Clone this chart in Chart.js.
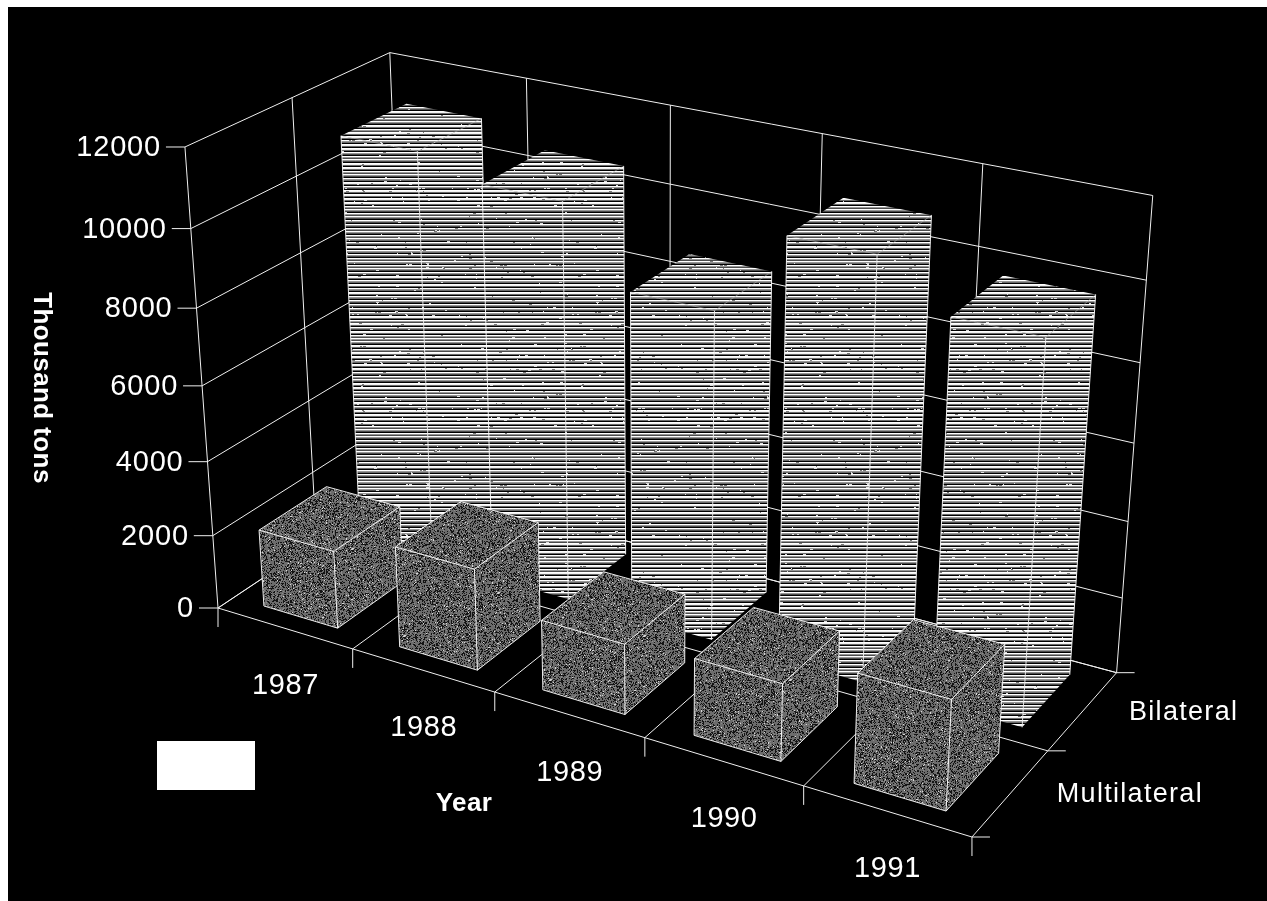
<!DOCTYPE html>
<html>
<head>
<meta charset="utf-8">
<title>Food aid deliveries</title>
<style>
    html, body { margin: 0; padding: 0; background: #fff; }
    canvas { display: block; }
</style>
<script src="https://cdn.jsdelivr.net/npm/chart.js@4"></script>
</head>
<body>
<canvas id="aidChart" width="1267" height="901"></canvas>
<script>
const years = ['1987', '1988', '1989', '1990', '1991'];
const seriesNames = ['Multilateral', 'Bilateral'];
const multilateral = [2100, 2700, 1850, 2000, 2800];
const bilateral = [11000, 10500, 8600, 10800, 9700];
const yTicks = [0, 2000, 4000, 6000, 8000, 10000, 12000];

const SANS = '"Liberation Sans", Arial, sans-serif';
const LINE = '#f0f0f0';

// Box camera: u runs along the years, v runs back through the series, t runs up the value axis
const cam = {
    o: [218, 608], u: [627.6, 120.2], v: [225.2, -83.1], t: [-46, -471.3],
    wu: -0.13, wv: 0.089, wt: -0.07
};

function project(u, v, t) {
    const w = 1 + cam.wu * u + cam.wv * v + cam.wt * t;
    return [
        (cam.o[0] + cam.u[0] * u + cam.v[0] * v + cam.t[0] * t) / w,
        (cam.o[1] + cam.u[1] * u + cam.v[1] * v + cam.t[1] * t) / w
    ];
}

function segment(ctx, a, b) {
    ctx.beginPath();
    ctx.moveTo(a[0], a[1]);
    ctx.lineTo(b[0], b[1]);
    ctx.stroke();
}

function polygon(ctx, pts, fill) {
    ctx.beginPath();
    pts.forEach((p, i) => (i ? ctx.lineTo(p[0], p[1]) : ctx.moveTo(p[0], p[1])));
    ctx.closePath();
    ctx.fillStyle = fill;
    ctx.fill();
}

// Small repeatable generator for the print textures
function lcg(seed) {
    let s = seed;
    return () => {
        s = (s * 1103515245 + 12345) & 0x7fffffff;
        return s / 0x7fffffff;
    };
}

function stripeTexture(ctx) {
    const size = 220;
    const tile = document.createElement('canvas');
    tile.width = tile.height = size;
    const g = tile.getContext('2d');
    const img = g.createImageData(size, size);
    const rnd = lcg(77);
    const rows = [];
    while (rows.length < size) {
        const k = rnd();
        rows.push(255, k < 0.35 ? 240 : 150, k < 0.5 ? 105 : 75, k < 0.75 ? 0 : 35);
        if (k > 0.75) rows.pop();
    }
    for (let y = 0; y < size; y++) {
        // dropouts run along the row in short dashes
        let run = 0;
        let dash = 255;
        for (let x = 0; x < size; x++) {
            let c = rows[y];
            if (run > 0) {
                c = dash;
                run--;
            } else {
                const r = rnd();
                if (c > 200 && r < 0.008) { dash = 120; run = 1 + Math.floor(rnd() * 3); }
                if (c < 150 && r < 0.008) { dash = 220; run = 1 + Math.floor(rnd() * 3); }
            }
            const i = (y * size + x) * 4;
            img.data[i] = img.data[i + 1] = img.data[i + 2] = c;
            img.data[i + 3] = 255;
        }
    }
    g.putImageData(img, 0, 0);
    return ctx.createPattern(tile, 'repeat');
}

function speckleTexture(ctx) {
    const size = 240;
    const tile = document.createElement('canvas');
    tile.width = tile.height = size;
    const g = tile.getContext('2d');
    const img = g.createImageData(size, size);
    const rnd = lcg(4242);
    for (let i = 0; i < size * size * 4; i += 4) {
        const r = rnd();
        const c = r < 0.3 ? 20 : r < 0.9 ? 108 : r < 0.975 ? 140 : 215;
        img.data[i] = img.data[i + 1] = img.data[i + 2] = c;
        img.data[i + 3] = 255;
    }
    g.putImageData(img, 0, 0);
    return ctx.createPattern(tile, 'repeat');
}

function drawBox(ctx, box, fill, solidEdges) {
    const { u0, u1, v0, v1, t } = box;
    const a = project(u0, v0, 0), b = project(u1, v0, 0), c = project(u1, v1, 0);
    const A = project(u0, v0, t), B = project(u1, v0, t), C = project(u1, v1, t), D = project(u0, v1, t);

    polygon(ctx, [a, b, B, A], fill);
    polygon(ctx, [b, c, C, B], fill);
    polygon(ctx, [A, B, C, D], fill);

    ctx.strokeStyle = '#fff';
    ctx.lineWidth = 1;
    ctx.globalAlpha = solidEdges ? 0.95 : 0.85;
    segment(ctx, B, b);
    ctx.globalAlpha = solidEdges ? 0.95 : 0.4;
    segment(ctx, A, B);
    segment(ctx, B, C);
    ctx.globalAlpha = 0.9;
    segment(ctx, A, a);
    segment(ctx, C, c);
    if (solidEdges) {
        segment(ctx, a, b);
        segment(ctx, b, c);
        segment(ctx, A, D);
        segment(ctx, D, C);
    }
    ctx.globalAlpha = 1;
}

function label(ctx, text, x, y, font, align, spacing) {
    ctx.font = font;
    ctx.textAlign = align;
    ctx.textBaseline = 'middle';
    ctx.letterSpacing = spacing;
    ctx.fillStyle = '#fff';
    ctx.fillText(text, x, y);
    ctx.letterSpacing = '0px';
}

const box3d = {
    id: 'box3d',
    beforeDraw(chart) {
        const ctx = chart.ctx;
        ctx.fillStyle = '#000';
        ctx.fillRect(8, 7, chart.width - 8, chart.height - 7);
    },
    beforeDatasetsDraw(chart) {
        const ctx = chart.ctx;
        const area = chart.chartArea;
        const yScale = chart.scales.y;
        const toT = (value) => (yScale.bottom - yScale.getPixelForValue(value)) / yScale.height;

        ctx.save();
        ctx.lineWidth = 1;
        ctx.strokeStyle = LINE;

        // walls: value lines across the left and back planes
        yTicks.forEach((value) => {
            const t = toT(value);
            segment(ctx, project(0, 0, t), project(0, 1, t));
            segment(ctx, project(0, 1, t), project(1, 1, t));
            const p = project(0, 0, t);
            segment(ctx, [p[0] - 19, p[1]], p);
        });

        // verticals on the walls and year lines on the floor
        segment(ctx, project(0, 0, 0), project(0, 0, 1));
        segment(ctx, project(0, 0.5, 0), project(0, 0.5, 1));
        years.forEach((year, i) => {
            const u = i / years.length;
            segment(ctx, project(u, 1, 0), project(u, 1, 1));
            segment(ctx, project(u, 0, 0), project(u, 1, 0));
            const p = project(u, 0, 0);
            segment(ctx, p, [p[0], p[1] + 19]);
        });
        segment(ctx, project(1, 1, 0), project(1, 1, 1));
        segment(ctx, project(1, 0, 0), project(1, 1, 0));
        const corner = project(1, 0, 0);
        segment(ctx, corner, [corner[0], corner[1] + 19]);

        // series lines on the floor with their ticks on the right edge
        [0, 0.5, 1].forEach((v) => {
            const p = project(1, v, 0);
            segment(ctx, project(0, v, 0), p);
            segment(ctx, p, [p[0] + 18, p[1]]);
        });

        // bars: back row first, then the front row, each from left to right
        const textures = [speckleTexture(ctx), stripeTexture(ctx)];
        [1, 0].forEach((row) => {
            chart.getDatasetMeta(row).data.forEach((bar) => {
                drawBox(ctx, {
                    u0: (bar.x - bar.width / 2 - area.left) / area.width,
                    u1: (bar.x + bar.width / 2 - area.left) / area.width,
                    v0: (row + 0.5) / seriesNames.length - 0.17,
                    v1: (row + 0.5) / seriesNames.length + 0.17,
                    t: (yScale.bottom - bar.y) / yScale.height
                }, textures[row], row === 0);
            });
        });

        // axis text
        const tickFont = '29px ' + SANS;
        yTicks.forEach((value) => {
            const p = project(0, 0, toT(value));
            label(ctx, String(value), p[0] - 24, p[1] + 1, tickFont, 'right', '0.8px');
        });
        years.forEach((year, i) => {
            const p = project((i + 0.5) / years.length, 0, 0);
            label(ctx, year, p[0] + 1, p[1] + 58, tickFont, 'center', '0.6px');
        });
        seriesNames.forEach((name, k) => {
            const p = project(1, (k + 0.5) / seriesNames.length, 0);
            label(ctx, name, p[0] + 46, p[1] + 1.5, '27px ' + SANS, 'left', '1.3px');
        });

        label(ctx, 'Year', 464, 804, 'bold 26px ' + SANS, 'center', '0.4px');
        ctx.save();
        ctx.translate(41, 388);
        ctx.rotate(Math.PI / 2);
        label(ctx, 'Thousand tons', 0, 0, 'bold 26px ' + SANS, 'center', '0.4px');
        ctx.restore();

        // plain white key box
        ctx.fillStyle = '#fff';
        ctx.fillRect(157, 741, 98, 49);

        ctx.restore();
        return false;
    }
};

new Chart(document.getElementById('aidChart'), {
    type: 'bar',
    data: {
        labels: years,
        datasets: [
            { label: seriesNames[0], data: multilateral, grouped: false, categoryPercentage: 0.55, barPercentage: 1 },
            { label: seriesNames[1], data: bilateral, grouped: false, categoryPercentage: 0.55, barPercentage: 1 }
        ]
    },
    options: {
        responsive: false,
        animation: false,
        layout: { padding: 0 },
        plugins: { legend: { display: false }, tooltip: { enabled: false } },
        scales: {
            x: { display: false },
            y: { display: false, min: 0, max: 12000 }
        }
    },
    plugins: [box3d]
});
</script>
</body>
</html>
